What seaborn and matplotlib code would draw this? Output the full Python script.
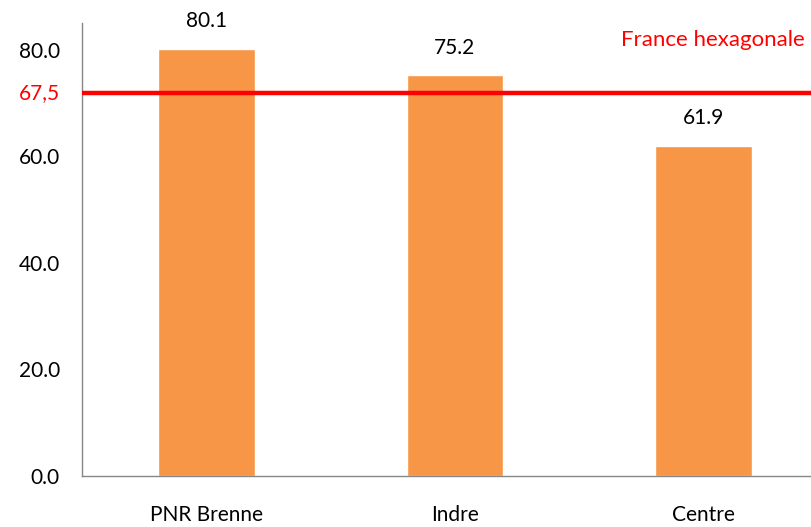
import pandas as pd
import numpy as np
import seaborn as sns
import matplotlib.pyplot as plt

categories = ["PNR Brenne", "Indre", "Centre"]
values = [80.1, 75.2, 61.9]
ref_label = "67,5"
ref_line_pos = 71.9  # where the red line is drawn in the picture
ref_name = "France hexagonale"
yticks = [0, 20, 40, 60, 80]

df = pd.DataFrame({"zone": categories, "valeur": values})

sns.set_style("white")
plt.rcParams["font.family"] = ["Lato", "DejaVu Sans"]
plt.rcParams["text.color"] = "black"

fig = plt.figure(figsize=(8.12, 5.27), dpi=100)
ax = fig.add_axes([82 / 812, 51 / 527, 746 / 812, 453 / 527])

sns.barplot(data=df, x="zone", y="valeur", color="#F79646", saturation=1,
            width=0.39, ax=ax)

ax.axhline(ref_line_pos, color="#FF0000", lw=3.2, zorder=5)

for i, v in enumerate(values):
    ax.text(i, v + 5.2, f"{v:.1f}", ha="center", va="center", fontsize=15, color="black")

ax.annotate(ref_label, xy=(0, ref_line_pos), xycoords=("axes fraction", "data"),
            xytext=(-16, 0), textcoords="offset points", ha="right", va="center",
            fontsize=15, color="#FF0000")
ax.text(2.407, 81.8, ref_name, ha="right", va="center", fontsize=16, color="#FF0000")

ax.set_xlim(-0.5, 2.5)
ax.set_ylim(0, 85)
ax.set_yticks(yticks)
ax.set_yticklabels([f"{t:.1f}" for t in yticks], fontsize=15, color="black")
ax.set_xlabel("")
ax.set_ylabel("")
ax.tick_params(axis="x", which="major", length=0, pad=21, labelsize=15, labelcolor="black")
ax.set_xticks([-0.5, 0.5, 1.5, 2.5], minor=True)
ax.tick_params(axis="x", which="minor", length=6, color="#868686", width=1)
ax.tick_params(axis="y", length=6, color="#868686", width=1, pad=10)

for s in ["top", "right"]:
    ax.spines[s].set_visible(False)
for s in ["left", "bottom"]:
    ax.spines[s].set_color("#868686")
    ax.spines[s].set_linewidth(1)

fig.savefig("out.png", dpi=100)
